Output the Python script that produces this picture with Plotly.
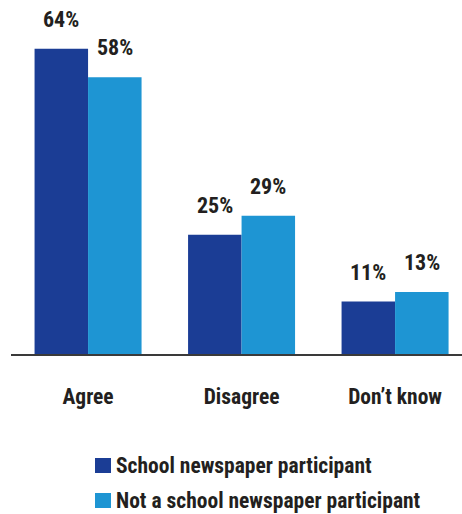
import plotly.graph_objects as go

categories = ["Agree", "Disagree", "Don\u2019t know"]
participant = [64, 25, 11]
non_participant = [58, 29, 13]
series_names = ["School newspaper participant", "Not a school newspaper participant"]
colors = ["#1b3d95", "#1e95d3"]

FONT = "Roboto Condensed, Open Sans Condensed, sans-serif"
TEXT = "#231f20"
SIZE = 21.5
W, H = 462, 514
ML, MR, MT, MB = 11, 0, 0, 160

fig = go.Figure()
for name, vals, col in zip(series_names, [participant, non_participant], colors):
    fig.add_trace(go.Bar(
        x=list(range(len(categories))), y=vals, name=name,
        marker=dict(color=col, line=dict(width=0)),
        showlegend=False, hoverinfo="skip",
    ))

# value labels above each bar
bar_w = 53.5
for i, vals in enumerate([participant, non_participant]):
    off = (-0.5 if i == 0 else 0.5) * bar_w
    for c, v in enumerate(vals):
        fig.add_annotation(
            x=c, y=v, xref="x", yref="y", text=f"<b>{v}%</b>",
            showarrow=False, xanchor="center", yanchor="bottom",
            xshift=off, yshift=15,
            font=dict(family=FONT, size=22, color=TEXT),
        )

# legend drawn as swatches + text
plot_w = W - ML - MR
plot_h = H - MT - MB


def px(xp):
    return (xp - ML) / plot_w


def py(yp):
    return (H - MB - yp) / plot_h


for k, (name, col) in enumerate(zip(series_names, colors)):
    top = 458 + 35 * k
    fig.add_shape(type="rect", xref="paper", yref="paper",
                  x0=px(95), x1=px(111), y0=py(top + 15), y1=py(top),
                  fillcolor=col, line=dict(width=0))
    fig.add_annotation(x=px(114), y=py(top + 7.5), xref="paper", yref="paper",
                       text=f"<b>{name}</b>", showarrow=False,
                       xanchor="left", yanchor="middle",
                       font=dict(family=FONT, size=SIZE, color=TEXT))

fig.update_layout(
    width=W, height=H,
    margin=dict(l=ML, r=MR, t=MT, b=MB, pad=0),
    paper_bgcolor="white", plot_bgcolor="white",
    barmode="group", bargap=0.303, bargroupgap=0,
    showlegend=False,
    xaxis=dict(
        range=[-0.502, 2.436], tickmode="array",
        tickvals=list(range(len(categories))),
        ticktext=[f"<b>{c}</b>" for c in categories],
        tickfont=dict(family=FONT, size=SIZE, color=TEXT),
        ticks="", ticklabelstandoff=22,
        showline=True, linecolor="#3a3a3a", linewidth=1.5,
        showgrid=False, zeroline=False, fixedrange=True,
    ),
    yaxis=dict(range=[0, 354 / 4.77], visible=False, showgrid=False,
               zeroline=False, fixedrange=True),
)

fig.write_html("out.html")
